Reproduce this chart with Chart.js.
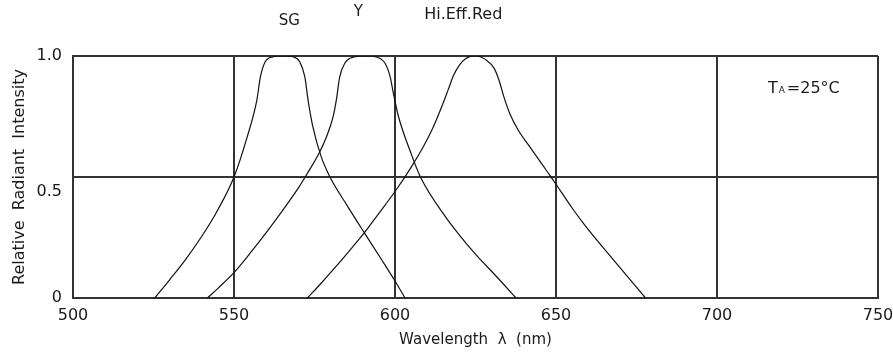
<!DOCTYPE html>
<html>
<head>
<meta charset="utf-8">
<style>
html,body{margin:0;padding:0;background:#ffffff;}
#wrap{width:893px;height:356px;position:relative;}
canvas{display:block;}
</style>
<script src="https://cdn.jsdelivr.net/npm/chart.js@4.4.1/dist/chart.umd.min.js"></script>
</head>
<body>
<div id="wrap"><canvas id="c" width="893" height="356"></canvas></div>
<script>
// ---- data ----
const xTickValues = [500, 550, 600, 650, 700, 750];
const yTickValues = [0, 0.5, 1.0];
const yTickLabels = ['0', '0.5', '1.0'];

const sgWavelength = [525.4, 530, 535, 540, 545, 550, 554.1, 557.1, 558.2, 559.7, 562, 565.3, 568.5, 570.4, 572, 573, 574.5, 577.1, 579.8, 585, 590.5, 596, 600, 603.1];
const sgIntensity  = [0, 0.075, 0.16, 0.255, 0.365, 0.5, 0.666, 0.818, 0.914, 0.976, 0.996, 1.0, 0.996, 0.976, 0.914, 0.818, 0.707, 0.583, 0.5, 0.385, 0.269, 0.155, 0.07, 0];

const yWavelength = [541.8, 545, 550, 555, 560, 565, 570, 573, 576.5, 578.7, 580.7, 581.8, 582.8, 584.4, 587, 591, 594.5, 596.9, 598.5, 599.5, 601.1, 605, 607.9, 615.7, 620, 625.4, 631.3, 637.6];
const yIntensity  = [0, 0.04, 0.105, 0.185, 0.27, 0.36, 0.455, 0.52, 0.6, 0.665, 0.745, 0.82, 0.912, 0.97, 0.995, 1.0, 0.995, 0.97, 0.914, 0.846, 0.749, 0.597, 0.5, 0.335, 0.26, 0.175, 0.092, 0];

const redWavelength = [572.8, 577, 581, 585.5, 590.5, 595, 600, 605, 609, 612, 614.5, 616.5, 618.2, 620, 622, 625, 628.4, 630.8, 632.3, 633.8, 635.7, 638.2, 642.1, 645.8, 648.2, 650, 655, 659, 668.3, 677.8];
const redIntensity  = [0, 0.06, 0.12, 0.19, 0.27, 0.35, 0.44, 0.54, 0.63, 0.71, 0.79, 0.86, 0.92, 0.962, 0.99, 1.0, 0.983, 0.949, 0.9, 0.832, 0.76, 0.695, 0.62, 0.55, 0.505, 0.47, 0.372, 0.3, 0.15, 0];

const seriesNames = ['SG', 'Y', 'Hi.Eff.Red'];
// label anchors (wavelength) for the curve names above the plot
const seriesLabelWavelength = [567.2, 588.6, 621.2];
const seriesLabelRaise = [35, 44, 41];
const tempLabelText = ['T', 'A', '=25°C'];
const tempLabelAnchor = [715.8, 0.863];

// ---- build chart ----
const FONT = '"DejaVu Sans", sans-serif';
const INK = '#1a1a1a';
const GRID = '#333333';

function pairs(xs, ys) { return xs.map((w, i) => ({x: w, y: ys[i]})); }

const curveStyle = {
  showLine: true,
  borderColor: '#111111',
  borderWidth: 1.2,
  pointRadius: 0,
  pointHoverRadius: 0,
  fill: false,
  cubicInterpolationMode: 'monotone'
};

const textPlugin = {
  id: 'textLabels',
  afterDraw(chart) {
    const {ctx, chartArea} = chart;
    const xs = chart.scales.x, ys = chart.scales.y;
    ctx.save();
    ctx.fillStyle = INK;
    ctx.textBaseline = 'middle';
    ctx.textAlign = 'center';
    seriesNames.forEach((t, i) => {
      ctx.font = (i === 2 ? '16px ' : '15px ') + FONT;
      ctx.fillText(t, xs.getPixelForValue(seriesLabelWavelength[i]), chartArea.top - seriesLabelRaise[i]);
    });
    ctx.textAlign = 'left';
    let px = xs.getPixelForValue(tempLabelAnchor[0]);
    const py = ys.getPixelForValue(tempLabelAnchor[1]);
    ctx.font = '16px ' + FONT;
    ctx.fillText(tempLabelText[0], px, py);
    px += ctx.measureText(tempLabelText[0]).width + 1;
    ctx.font = '9px ' + FONT;
    ctx.fillText(tempLabelText[1], px, py + 2);
    px += ctx.measureText(tempLabelText[1]).width + 2;
    ctx.font = '16px ' + FONT;
    ctx.fillText(tempLabelText[2], px, py);
    ctx.restore();
  }
};

new Chart(document.getElementById('c'), {
  type: 'scatter',
  data: {
    datasets: [
      Object.assign({label: seriesNames[0], data: pairs(sgWavelength, sgIntensity)}, curveStyle),
      Object.assign({label: seriesNames[1], data: pairs(yWavelength, yIntensity)}, curveStyle),
      Object.assign({label: seriesNames[2], data: pairs(redWavelength, redIntensity)}, curveStyle)
    ]
  },
  options: {
    responsive: false,
    devicePixelRatio: 1,
    animation: false,
    events: [],
    layout: {padding: {top: 56, right: 15, left: 0, bottom: 0}},
    plugins: {legend: {display: false}, tooltip: {enabled: false}, title: {display: false}},
    scales: {
      x: {
        type: 'linear',
        min: 500, max: 750,
        afterBuildTicks: (s) => { s.ticks = xTickValues.map(v => ({value: v})); },
        ticks: {
          color: INK, font: {family: FONT, size: 16}, padding: 8,
          maxRotation: 0, autoSkip: false,
          callback: (v) => String(v)
        },
        grid: {color: GRID, lineWidth: 2, drawTicks: false},
        border: {display: true, color: GRID, width: 2},
        title: {display: true, text: 'Wavelength  λ  (nm)', color: INK,
                font: {family: FONT, size: 15}, padding: {top: 0, bottom: 7}},
        afterFit: (s) => { s.height = 58; s.paddingLeft = 0; s.paddingRight = 0; }
      },
      y: {
        type: 'linear',
        min: 0, max: 1,
        afterBuildTicks: (s) => { s.ticks = yTickValues.map(v => ({value: v})); },
        ticks: {
          color: INK, font: {family: FONT, size: 16, lineHeight: 1.8}, padding: 11,
          autoSkip: false,
          callback: (v) => {
            const i = yTickValues.indexOf(v);
            const t = i >= 0 ? yTickLabels[i] : '';
            return v === 0.5 ? ['', t] : t;
          }
        },
        grid: {color: GRID, lineWidth: 2, drawTicks: false},
        border: {display: true, color: GRID, width: 2},
        title: {display: true, text: 'Relative  Radiant  Intensity', color: INK,
                font: {family: FONT, size: 16}, padding: {top: 10, bottom: 0}},
        afterFit: (s) => { s.width = 73; s.paddingTop = 0; s.paddingBottom = 0; }
      }
    }
  },
  plugins: [textPlugin]
});
</script>
</body>
</html>
